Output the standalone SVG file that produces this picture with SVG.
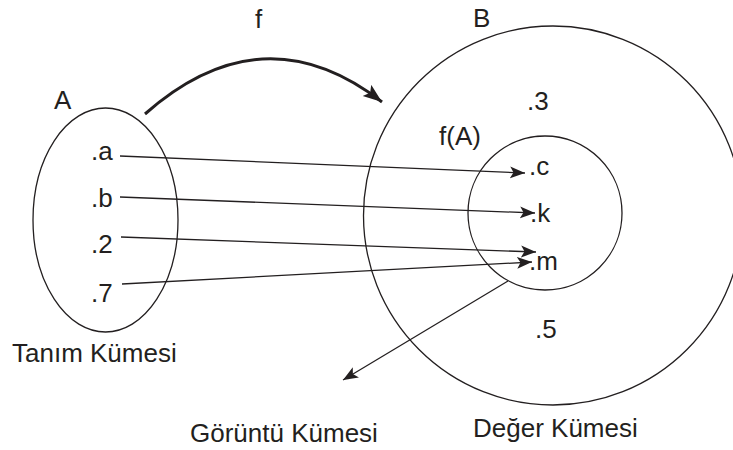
<svg xmlns="http://www.w3.org/2000/svg" width="733" height="450" viewBox="0 0 733 450">
<style>
text{font-family:"Liberation Sans",Arial,sans-serif;font-size:26px;fill:#231f20}
.set{fill:none;stroke:#231f20;stroke-width:1.3}
.ln{fill:none;stroke:#231f20;stroke-width:1.3}
</style>
<defs>
<marker id="ah" markerUnits="userSpaceOnUse" markerWidth="18" markerHeight="14" refX="15" refY="6" orient="auto">
<path d="M0,0 L15,6 L0,12 L3.5,6 Z" fill="#231f20"/>
</marker>
<marker id="ahf" markerUnits="userSpaceOnUse" markerWidth="22" markerHeight="16" refX="19" refY="7" orient="auto">
<path d="M0,0 L19,7 L0,14 L4,7 Z" fill="#231f20"/>
</marker>
</defs>
<rect width="733" height="450" fill="#fff"/>
<g id="setA">
<ellipse class="set" cx="105.5" cy="220" rx="72.5" ry="112"/>
<text x="54" y="109">A</text>
<text x="91" y="160">.a</text>
<text x="91" y="207">.b</text>
<text x="91" y="253">.2</text>
<text x="91" y="302">.7</text>
<text x="12" y="362">Tanım Kümesi</text>
</g>
<g id="setB">
<circle class="set" cx="553" cy="215.5" r="189.5"/>
<text x="473" y="27">B</text>
<text x="527" y="110">.3</text>
<text x="535" y="338">.5</text>
<text x="473" y="437">Değer Kümesi</text>
</g>
<g id="setFA">
<circle class="set" cx="545" cy="213" r="77"/>
<text x="439" y="145">f(A)</text>
<text x="529" y="175">.c</text>
<text x="530" y="222">.k</text>
<text x="529" y="270">.m</text>
</g>
<g id="labels">
<text x="255" y="28">f</text>
<text x="190" y="442">Görüntü Kümesi</text>
</g>
<g id="connectors">
<path d="M145,114 Q263,10 382,102" fill="none" stroke="#231f20" stroke-width="3" marker-end="url(#ahf)"/>
<line class="ln" x1="120" y1="156" x2="525" y2="173" marker-end="url(#ah)"/>
<line class="ln" x1="120" y1="197" x2="535" y2="213" marker-end="url(#ah)"/>
<line class="ln" x1="121" y1="237" x2="536" y2="252" marker-end="url(#ah)"/>
<line class="ln" x1="122" y1="284" x2="532" y2="262" marker-end="url(#ah)"/>
<line class="ln" x1="508" y1="281" x2="343" y2="380" marker-end="url(#ah)"/>
</g>
</svg>
